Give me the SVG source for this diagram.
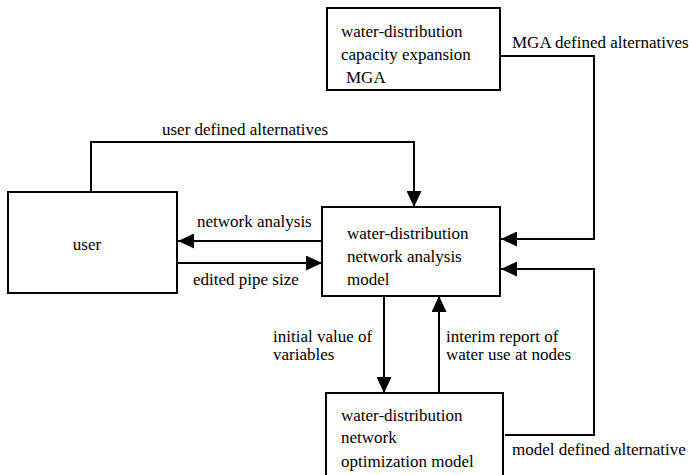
<svg xmlns="http://www.w3.org/2000/svg" width="689" height="475" viewBox="0 0 689 475">
<style>
.box{fill:#fff;stroke:#000;stroke-width:2}
.ln{fill:none;stroke:#000;stroke-width:2}
text{font-family:'Liberation Serif',serif;font-size:17px;fill:#000}
</style>
<defs>
<marker id="ah" markerUnits="userSpaceOnUse" markerWidth="16" markerHeight="15" refX="16" refY="7.5" orient="auto">
<path d="M0,0 L16,7.5 L0,15 z" fill="#000"/>
</marker>
</defs>
<rect width="689" height="475" fill="#fff"/>
<g id="connectors">
<path class="ln" d="M91,192 V142 H414 V207" marker-end="url(#ah)"/>
<path class="ln" d="M322,241 H178" marker-end="url(#ah)"/>
<path class="ln" d="M175,263 H322" marker-end="url(#ah)"/>
<path class="ln" d="M500,56 H594 V239 H501" marker-end="url(#ah)"/>
<path class="ln" d="M505,435 H594 V269 H501" marker-end="url(#ah)"/>
<path class="ln" d="M384,296 V393" marker-end="url(#ah)"/>
<path class="ln" d="M439,393 V296" marker-end="url(#ah)"/>
<text x="162" y="135">user defined alternatives</text>
<text x="197" y="227">network analysis</text>
<text x="193" y="285">edited pipe size</text>
<text x="512" y="48">MGA defined alternatives</text>
<text x="273" y="342">initial value of</text>
<text x="273" y="360">variables</text>
<text x="446" y="342">interim report of</text>
<text x="446" y="360">water use at nodes</text>
<text x="512" y="455">model defined alternative</text>
</g>
<g id="mga">
<rect class="box" x="327" y="8" width="173" height="82"/>
<text x="341" y="37">water-distribution</text>
<text x="341" y="60">capacity expansion</text>
<text x="346" y="83">MGA</text>
</g>
<g id="user">
<rect class="box" x="8" y="192" width="169" height="101"/>
<text x="87" y="250" text-anchor="middle">user</text>
</g>
<g id="analysis">
<rect class="box" x="322" y="207" width="178" height="89"/>
<text x="347" y="239">water-distribution</text>
<text x="347" y="262">network analysis</text>
<text x="347" y="285">model</text>
</g>
<g id="optimization">
<rect class="box" x="326" y="393" width="177" height="90"/>
<text x="341" y="421">water-distribution</text>
<text x="341" y="443">network</text>
<text x="341" y="467">optimization model</text>
</g>
</svg>
